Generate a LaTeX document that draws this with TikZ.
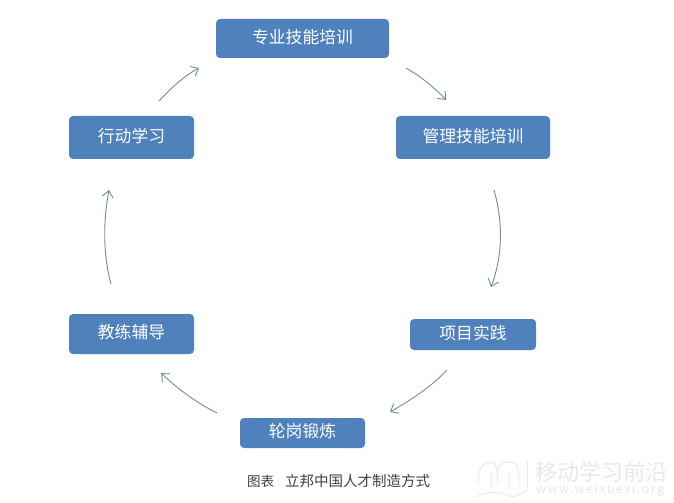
\documentclass[tikz,border=0pt]{standalone}
\usepackage{fontspec}
\setmainfont{Noto Sans CJK SC}
\usetikzlibrary{arrows.meta}
\definecolor{boxblue}{HTML}{4F81BD}
\definecolor{arrowc}{HTML}{7389A6}
\definecolor{wm}{HTML}{E8E8E8}
\tikzset{
  stagebox/.style={fill=boxblue,draw=none,rounded corners=4bp,text=white,font=\fontsize{16.8bp}{18bp}\selectfont,inner sep=0pt,anchor=center,text height=12bp,text depth=2.2bp},
  flowarrow/.style={draw=arrowc,line width=0.9bp,-{Straight Barb[length=6.5bp,width=11bp,line width=0.9bp]}},
  captiontext/.style={text=black!75,font=\fontsize{13.5bp}{15bp}\selectfont,inner sep=0pt},
  wmmain/.style={text=wm,font=\fontsize{22bp}{24bp}\selectfont,inner sep=0pt},
  wmsub/.style={text=wm,font=\fontsize{12.5bp}{14bp}\addfontfeatures{LetterSpace=11.7}\selectfont,inner sep=0pt},
  wmline/.style={draw=wm,line width=0.9bp}
}
\begin{document}
\begin{tikzpicture}[x=1bp,y=-1bp]
\useasboundingbox (0,0) rectangle (674,503);
\fill[white] (0,0) rectangle (674,503);
\node[stagebox,minimum width=173bp,minimum height=39bp] (zy) at (302.5,38.5) {专业技能培训};
\node[stagebox,minimum width=154bp,minimum height=43bp] (gl) at (473,137.5) {管理技能培训};
\node[stagebox,minimum width=125bp,minimum height=43bp] (xd) at (131.5,137.5) {行动学习};
\node[stagebox,minimum width=125bp,minimum height=40bp] (jl) at (131.5,334) {教练辅导};
\node[stagebox,minimum width=126bp,minimum height=31bp] (xm) at (473,334.5) {项目实践};
\node[stagebox,minimum width=125bp,minimum height=30bp] (lg) at (302.5,433) {轮岗锻炼};
\coordinate (a1) at (159,101); \coordinate (a2) at (199,68);
\coordinate (b1) at (406,68); \coordinate (b2) at (446,100);
\coordinate (c1) at (494,190); \coordinate (c2) at (491,287);
\coordinate (d1) at (447,370); \coordinate (d2) at (390,412);
\coordinate (e1) at (217,413); \coordinate (e2) at (161,373);
\coordinate (f1) at (111,284); \coordinate (f2) at (109,190);
\draw[flowarrow] (a1) .. controls (170,89) and (184,76) .. (a2);
\draw[flowarrow] (b1) .. controls (420,76) and (434,87) .. (b2);
\draw[flowarrow] (c1) .. controls (503,222) and (503,255) .. (c2);
\draw[flowarrow] (d1) .. controls (431,387) and (411,400) .. (d2);
\draw[flowarrow] (e1) .. controls (197,403) and (179,390) .. (e2);
\draw[flowarrow] (f1) .. controls (103,254) and (103,222) .. (f2);
\node[captiontext,anchor=west] (cap1) at (247,481) {图表};
\node[captiontext,anchor=west,font=\fontsize{14.5bp}{16bp}\selectfont] (cap2) at (285,481) {立邦中国人才制造方式};
\node[wmmain,anchor=west] (wm1) at (535,472.5) {移动学习前沿};
\node[wmsub,anchor=west] (wm2) at (536,490) {www.weixuexi.org};
\draw[wmline] (476,497) .. controls (486,491) and (500,491) .. (513,497) -- (527,491);
\draw[wmline] (478,484) .. controls (478,470) and (482,462) .. (490,462) .. controls (497,462) and (498,470) .. (498,484);
\draw[wmline] (498,470) .. controls (500,462) and (506,462) .. (512,462) .. controls (518,462) and (519,472) .. (519,486);
\draw[wmline] (491,474) -- (491,486);
\draw[wmline] (509,474) -- (509,486);
\draw[wmline] (527,461) -- (527,491);
\end{tikzpicture}
\end{document}
